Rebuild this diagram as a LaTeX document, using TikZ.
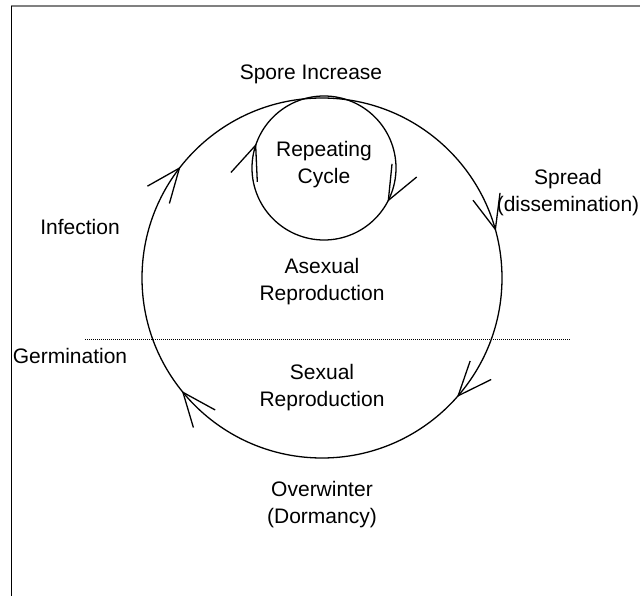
\documentclass[tikz,border=0pt]{standalone}
\usepackage{fontspec}
\setmainfont{Liberation Sans}
\usetikzlibrary{arrows.meta}
\usetikzlibrary{decorations.markings}

\begin{document}
\begin{tikzpicture}[
		x=1pt, y=-1pt,
		>={Straight Barb[length=34pt,width=28pt]},
		cycleline/.style={line width=1.3pt, postaction=decorate},
	]
	\useasboundingbox (0,0) rectangle (640,596);

	% frame
	\draw[gray, line width=2pt] (11,6) -- (640,6);
	\draw[line width=0.8pt] (11,6) -- (11,596);

	% cycles
	\coordinate (main) at (322,278);
	\coordinate (inner) at (324,168);
	\draw[cycleline, decoration={markings,
			mark=at position 0.115 with {\arrow{>}},
			mark=at position 0.392 with {\arrow{>}},
			mark=at position 0.606 with {\arrow{>}},
			mark=at position 0.958 with {\arrow{>}}}] (main) circle (180);
	\draw[cycleline, decoration={markings,
			mark=at position 0.078 with {\arrow{>}},
			mark=at position 0.555 with {\arrow{>}}}] (inner) circle (72);
	\draw[line width=1pt, dash pattern=on 1pt off 1pt] (85,339) -- (570,339);

	% stages
	\begin{scope}[every node/.style={font=\fontsize{21}{27}\selectfont, align=center}]
		\node (spore) at (311,74) {Spore Increase};
		\node (spread) at (568,193) {Spread\\(dissemination)};
		\node (repeat) at (324,165) {Repeating\\Cycle};
		\node (infect) at (80,227) {Infection};
		\node (asex) at (322,282) {Asexual\\Reproduction};
		\node (germ) at (70,356) {Germination};
		\node (sex) at (322,388) {Sexual\\Reproduction};
		\node (winter) at (322,505) {Overwinter\\(Dormancy)};
	\end{scope}
\end{tikzpicture}
\end{document}
